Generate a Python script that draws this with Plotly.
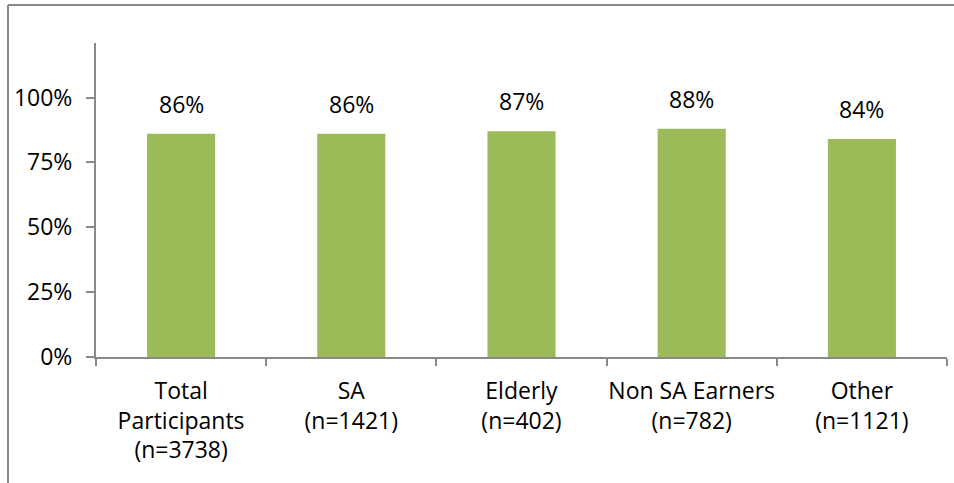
import plotly.graph_objects as go

# Share of participants per group
categories = [
    "Total<br>Participants<br>(n=3738)",
    "SA<br>(n=1421)",
    "Elderly<br>(n=402)",
    "Non SA Earners<br>(n=782)",
    "Other<br>(n=1121)",
]
values = [0.86, 0.86, 0.87, 0.88, 0.84]
value_labels = ["86%", "86%", "87%", "88%", "84%"]
y_ticks = [0, 0.25, 0.5, 0.75, 1.0]
y_tick_labels = ["0%", "25%", "50%", "75%", "100%"]

BAR_COLOR = "#9BBB59"
AXIS_COLOR = "#898989"
FONT = "Open Sans"

fig = go.Figure(
    go.Bar(
        x=categories,
        y=values,
        marker=dict(color=BAR_COLOR, line=dict(width=0)),
        width=0.4,
        hoverinfo="skip",
    )
)

# value labels sitting above each bar
for cat, val, lab in zip(categories, values, value_labels):
    fig.add_annotation(
        x=cat, y=val, text=lab, showarrow=False,
        yanchor="bottom", yshift=12,
        font=dict(family=FONT, size=23, color="#000000"),
    )

# chart frame (top and left edges)
fig.add_shape(type="line", xref="paper", yref="paper",
              x0=-0.1034, x1=1.02, y0=1.121, y1=1.121,
              line=dict(color=AXIS_COLOR, width=2))
fig.add_shape(type="line", xref="paper", yref="paper",
              x0=-0.1034, x1=-0.1034, y0=1.121, y1=-0.5,
              line=dict(color=AXIS_COLOR, width=2))

fig.update_layout(
    width=954, height=483,
    margin=dict(l=96, r=7, t=43, b=126),
    paper_bgcolor="white", plot_bgcolor="white",
    showlegend=False,
    font=dict(family=FONT, size=23, color="#000000"),
    bargap=0.6,
)
fig.update_xaxes(
    type="category", automargin=False, tickangle=0,
    showline=True, linecolor=AXIS_COLOR, linewidth=2,
    ticks="outside", tickson="boundaries", ticklen=7,
    tickcolor=AXIS_COLOR, tickwidth=2,
    tickfont=dict(family=FONT, size=23, color="#000000"),
    ticklabelstandoff=12,
    showgrid=False,
)
fig.update_yaxes(
    range=[0, 1.21], automargin=False,
    tickvals=y_ticks, ticktext=y_tick_labels,
    showline=True, linecolor=AXIS_COLOR, linewidth=2,
    ticks="outside", ticklen=8, tickcolor=AXIS_COLOR, tickwidth=2,
    tickfont=dict(family=FONT, size=23, color="#000000"),
    ticklabelstandoff=9,
    showgrid=False, zeroline=False,
)

fig.write_html("out.html")
